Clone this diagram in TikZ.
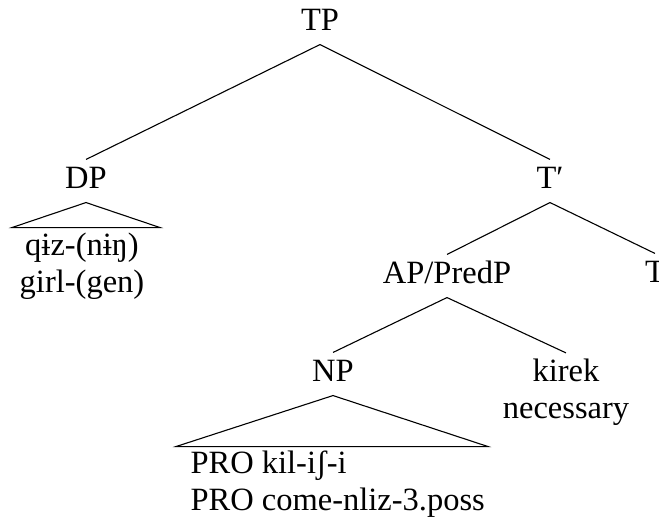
\documentclass[tikz,border=0pt]{standalone}
\usepackage{fontspec}
\setmainfont{Liberation Serif}
\usepackage{tikz}
\usetikzlibrary{calc}

\tikzset{
  cat/.style={anchor=base, inner sep=0pt, text height=28pt, text depth=14pt},
  leaf/.style={anchor=base, inner sep=5pt, align=center},
}

\begin{document}
\begin{tikzpicture}[x=1pt, y=-1pt, line width=1.1pt, font=\fontsize{32.5}{37}\selectfont]
          \useasboundingbox (0, 0) rectangle (659, 517);
          \node[cat] (TP) at (320, 30) {TP};
          \node[cat] (DP) at (86, 188) {DP};
          \node[cat] (Tbar) at (550, 188) {T′};
          \node[cat] (AP) at (447, 283) {AP/PredP};
          \node[cat] (T) at (655, 282) {T};
          \node[cat] (NP) at (333, 381) {NP};
          \node[leaf] (kirek) at (566, 418) {kirek\\necessary};
          \node[leaf] (qiz) at (82, 292) {qɨz-(nɨŋ)\\girl-(gen)};
          \node[leaf, align=left, anchor=base west, inner sep=0pt] (kil) at (190, 510) {PRO kil-iʃ-i\\PRO come-nliz-3.poss};
          \draw (TP.south) -- (DP.north);
          \draw (TP.south) -- (Tbar.north);
          \draw (Tbar.south) -- (AP.north);
          \draw (Tbar.south) -- (T.north);
          \draw (AP.south) -- (NP.north);
          \draw (AP.south) -- (kirek.north);
          % triangles
          \draw (DP.south) -- ++(-74, 25) -- ++(148, 0) -- cycle;
          \draw (NP.south) -- ++(-157, 51) -- ++(312, 0) -- cycle;
        \end{tikzpicture}
\end{document}
